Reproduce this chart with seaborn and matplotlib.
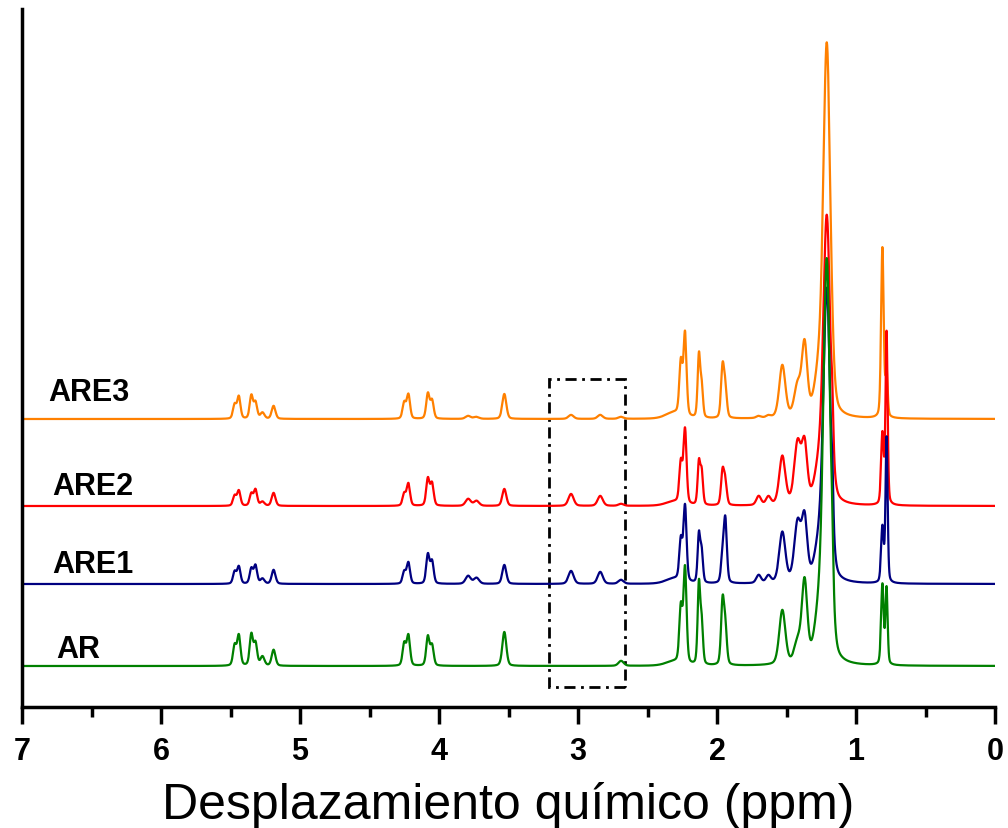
import numpy as np
import pandas as pd
import matplotlib.pyplot as plt
from matplotlib.patches import Rectangle
import seaborn as sns

sns.set_style('ticks')
plt.rcParams['font.family'] = ['Liberation Sans', 'DejaVu Sans']
plt.rcParams['text.color'] = 'black'
plt.rcParams['xtick.color'] = 'black'
plt.rcParams['axes.edgecolor'] = 'black'
plt.rcParams['axes.labelcolor'] = 'black'

# posiciones de los picos (ppm) y semianchura (ppm)
shifts = [5.47, 5.44, 5.35, 5.32, 5.27, 5.19, 4.25, 4.22, 4.08, 4.05, 3.79, 3.73, 3.53,
          3.05, 2.84, 2.69, 2.31, 2.26, 2.23, 2.13, 2.11, 1.96, 1.94, 1.70, 1.63, 1.53,
          1.42, 1.37, 1.27, 1.21, 1.17, 0.81, 0.78]
widths = [0.014, 0.014, 0.014, 0.014, 0.017, 0.016, 0.014, 0.014, 0.014, 0.014, 0.022, 0.022, 0.017,
          0.022, 0.022, 0.022, 0.070, 0.013, 0.013, 0.011, 0.011, 0.013, 0.013, 0.020, 0.020, 0.026,
          0.028, 0.023, 0.035, 0.030, 0.008, 0.011, 0.009]

# alturas de cada muestra
h_ar = [20, 30, 31, 22, 9, 16, 22, 30, 29, 20, 0, 0, 34,
        0, 0, 5, 4, 55, 95, 80, 40, 62, 35, 0, 0, 54,
        20, 80, 40, 400, 35, 80, 76]
h_are1 = [12, 17, 15, 18, 5, 14, 12, 21, 29, 22, 8, 6, 19,
          13, 12, 4, 5, 40, 75, 48, 30, 25, 62, 8, 7, 50,
          58, 60, 30, 290, 35, 55, 145]
h_are2 = [10, 15, 12, 16, 4, 13, 12, 22, 27, 22, 7, 5, 17,
          12, 10, 2, 4, 40, 74, 42, 32, 33, 22, 9, 8, 48,
          60, 56, 30, 285, 35, 70, 172]
h_are3 = [14, 22, 23, 16, 6, 13, 16, 24, 25, 18, 3, 2, 25,
          4, 4, 2, 6, 52, 82, 62, 30, 50, 28, 2, 2, 52,
          30, 70, 35, 370, 0, 170, 45]

samples = ['AR', 'ARE1', 'ARE2', 'ARE3']
offsets = [41, 123, 201, 288]
colors = ['#008000', '#000080', '#ff0000', '#ff8000']

ppm = np.linspace(0, 7, 14001)


def spectrum(heights, eta=0.3):
    # suma de picos pseudo-Voigt
    y = np.zeros_like(ppm)
    for s, w, h in zip(shifts, widths, heights):
        d = (ppm - s) / w
        y += h * (eta / (1 + d**2) + (1 - eta) * np.exp(-np.log(2) * d**2))
    return y


frames = []
for name, h, off in zip(samples, [h_ar, h_are1, h_are2, h_are3], offsets):
    frames.append(pd.DataFrame({'ppm': ppm, 'intensidad': spectrum(h) + off, 'muestra': name}))
df = pd.concat(frames[::-1], ignore_index=True)

fig = plt.figure(figsize=(10.08, 8.29), dpi=100)
ax = fig.add_axes([22/1008, 1 - 708/829, 973/1008, 698/829])

sns.lineplot(data=df, x='ppm', y='intensidad', hue='muestra',
             hue_order=samples[::-1], palette=dict(zip(samples, colors)),
             estimator=None, sort=False, lw=1.6, legend=False, ax=ax)

ax.set_xlim(7, 0)
ax.set_ylim(0, 698)
ax.set_xticks(range(0, 8))
ax.set_xticks(np.arange(0.5, 7, 1), minor=True)
ax.set_xticklabels([str(i) for i in range(0, 8)], fontweight='bold', fontsize=22)
ax.set_yticks([])
ax.set_ylabel('')
ax.set_xlabel('Desplazamiento químico (ppm)', fontsize=36, labelpad=11)
ax.tick_params(axis='x', which='major', length=12, width=2.5, pad=9)
ax.tick_params(axis='x', which='minor', length=7, width=2.5)
for side in ['top', 'right']:
    ax.spines[side].set_visible(False)
for side in ['left', 'bottom']:
    ax.spines[side].set_linewidth(2.5)

label_pos = [(6.755, 58), (6.78, 143), (6.78, 221), (6.81, 315)]
for name, (x, y) in zip(samples, label_pos):
    ax.text(x, y, name, fontsize=22, fontweight='bold', va='center', ha='left')

ax.add_patch(Rectangle((2.66, 20), 0.55, 308, fill=False, edgecolor='black',
                       lw=2, linestyle=(0, (4, 2, 1, 2))))

fig.savefig('out.png', dpi=100)
